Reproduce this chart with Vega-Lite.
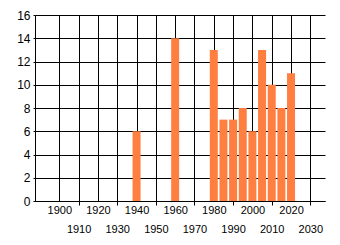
{
  "$schema": "https://vega.github.io/schema/vega-lite/v6.json",
  "width": 290,
  "height": 186,
  "autosize": {"type": "none"},
  "padding": {"left": 35, "top": 15, "right": 15, "bottom": 44},
  "background": "white",
  "config": {
    "view": {"stroke": null},
    "axis": {
      "labelFont": "Liberation Sans",
      "labelFontSize": 11,
      "labelColor": "#000",
      "domainColor": "#000",
      "tickColor": "#000",
      "gridColor": "#000",
      "gridOpacity": 1,
      "gridWidth": 1,
      "domainWidth": 1,
      "tickWidth": 1
    }
  },
  "data": {
    "values": [
      {"year": 1940, "count": 6},
      {"year": 1960, "count": 14},
      {"year": 1980, "count": 13},
      {"year": 1985, "count": 7},
      {"year": 1990, "count": 7},
      {"year": 1995, "count": 8},
      {"year": 2000, "count": 6},
      {"year": 2005, "count": 13},
      {"year": 2010, "count": 10},
      {"year": 2015, "count": 8},
      {"year": 2020, "count": 11}
    ]
  },
  "mark": {"type": "bar", "color": "#FF7F40", "size": 8},
  "encoding": {
    "x": {
      "field": "year",
      "type": "quantitative",
      "scale": {"domain": [1890, 2035], "nice": false, "zero": false},
      "axis": {
        "title": null,
        "values": [1900, 1910, 1920, 1930, 1940, 1950, 1960, 1970, 1980, 1990, 2000, 2010, 2020, 2030],
        "format": "d",
        "labelOverlap": false,
        "labelBaseline": "top",
        "labelPadding": {"expr": "datum.value % 20 == 0 ? 3 : 18"},
        "tickSize": {"expr": "datum.value % 20 == 0 ? 0 : 4"},
        "grid": true
      }
    },
    "y": {
      "field": "count",
      "type": "quantitative",
      "scale": {"domain": [0, 16], "nice": false},
      "axis": {
        "title": null,
        "values": [0, 2, 4, 6, 8, 10, 12, 14, 16],
        "tickSize": 2,
        "labelPadding": 3,
        "labelFontSize": 12,
        "grid": true
      }
    }
  }
}
